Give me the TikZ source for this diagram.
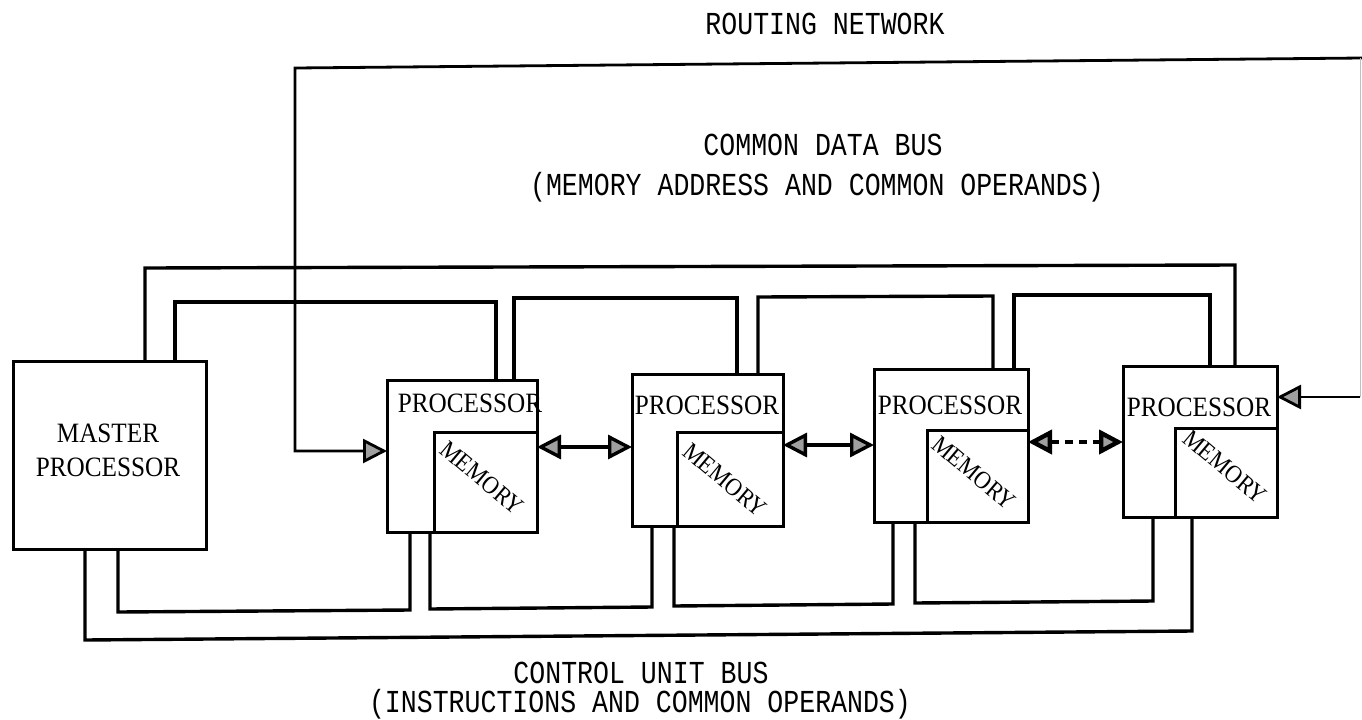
\documentclass[tikz,border=0pt]{standalone}
\usepackage{fontspec}
\setmainfont{Liberation Serif}
\newfontfamily\boxfont[FakeStretch=0.9]{Liberation Serif}
\newfontfamily\twfont[FakeStretch=0.83]{Liberation Mono}
\usetikzlibrary{arrows.meta,fit}
\tikzset{GT/.tip={Triangle[length=12pt,width=12pt,fill=gray!75]}}
\begin{document}
\begin{tikzpicture}[x=0.5pt,y=-0.5pt,
  bx/.style={draw, line width=1.5pt, inner sep=0pt, outer sep=0pt},
  bus/.style={line width=1.7pt},
  rline/.style={line width=1.4pt},
  plab/.style={font=\boxfont\fontsize{14}{17}\selectfont, inner sep=0pt},
  mlab/.style={font=\boxfont\fontsize{12.5}{14}\selectfont, rotate=-40, inner sep=0pt},
  tw/.style={font=\twfont\fontsize{16}{18}\selectfont, inner sep=0pt}]
\useasboundingbox[fill=white] (0,0) rectangle (1362,719);

% boxes
\node[bx, fit={(13,361)(206,549)}] (M) {};
\node[bx, fit={(387,380)(537,532)}] (P1) {};
\node[bx, fit={(434,432)(537,532)}] (R1) {};
\node[bx, fit={(632,374)(783,526)}] (P2) {};
\node[bx, fit={(677,432)(783,526)}] (R2) {};
\node[bx, fit={(874,369)(1028,522)}] (P3) {};
\node[bx, fit={(927,430)(1028,522)}] (R3) {};
\node[bx, fit={(1123,366)(1277,517)}] (P4) {};
\node[bx, fit={(1175,428)(1277,517)}] (R4) {};

% labels
\node[plab, align=center] (Mt) at (108,450) {MASTER\\PROCESSOR};
\node[plab] (P1t) at (470,403) {PROCESSOR};
\node[plab] (P2t) at (707,405) {PROCESSOR};
\node[plab] (P3t) at (950,405) {PROCESSOR};
\node[plab] (P4t) at (1199,407) {PROCESSOR};
\node[mlab] (R1t) at (482,478) {MEMORY};
\node[mlab] (R2t) at (725,480) {MEMORY};
\node[mlab] (R3t) at (974,473) {MEMORY};
\node[mlab] (R4t) at (1225,467) {MEMORY};

% common data bus (top)
\draw[bus] (M.north -| 145,0) -- (145,268) -- (1235,265) -- (P4.north -| 1235,0);
\draw[bus] (M.north -| 175,0) -- (175,302) -- (496,302) -- (P1.north -| 496,0);
\draw[bus] (P1.north -| 514,0) -- (514,298) -- (737,298) -- (P2.north -| 737,0);
\draw[bus] (P2.north -| 758,0) -- (758,297) -- (993,296) -- (P3.north -| 993,0);
\draw[bus] (P3.north -| 1014,0) -- (1014,295) -- (1210,295) -- (P4.north -| 1210,0);

% control unit bus (bottom)
\draw[bus] (M.south -| 85,0) -- (85,640) -- (1192,631) -- (P4.south -| 1192,0);
\draw[bus] (M.south -| 118,0) -- (118,612) -- (410,610) -- (P1.south -| 410,0);
\draw[bus] (P1.south -| 430,0) -- (430,609) -- (652,607) -- (P2.south -| 652,0);
\draw[bus] (P2.south -| 674,0) -- (674,606) -- (893,604) -- (P3.south -| 893,0);
\draw[bus] (P3.south -| 915,0) -- (915,603) -- (1153,601) -- (P4.south -| 1153,0);

% neighbour links
\draw[bus, GT-GT] (R1.east |- 0,447) -- (P2.west |- 0,447);
\draw[bus, GT-GT] (R2.east |- 0,445) -- (P3.west |- 0,445);
\draw[line width=2.2pt, dash pattern=on 4pt off 3pt, GT-GT] (R3.east |- 0,442) -- (P4.west |- 0,442);

% routing network
\coordinate (rnTR) at (1362,58);
\coordinate (rnR) at (1360,397);
\draw[rline, -GT] (rnTR) -- (295,68) -- (295,451) -- (P1.west |- 0,451);
\draw[line width=0.5pt, gray!50] (1360,58) -- (rnR);
\draw[rline, -GT] (rnR) -- (P4.east |- 0,397);

% texts
\node[tw] (t1) at (825,24) {ROUTING NETWORK};
\node[tw] (t2) at (823,145) {COMMON DATA BUS};
\node[tw] (t3) at (817,187) {(MEMORY ADDRESS AND COMMON OPERANDS)};
\node[tw] (t4) at (641,673) {CONTROL UNIT BUS};
\node[tw] (t5) at (640,704) {(INSTRUCTIONS AND COMMON OPERANDS)};
\end{tikzpicture}
\end{document}
